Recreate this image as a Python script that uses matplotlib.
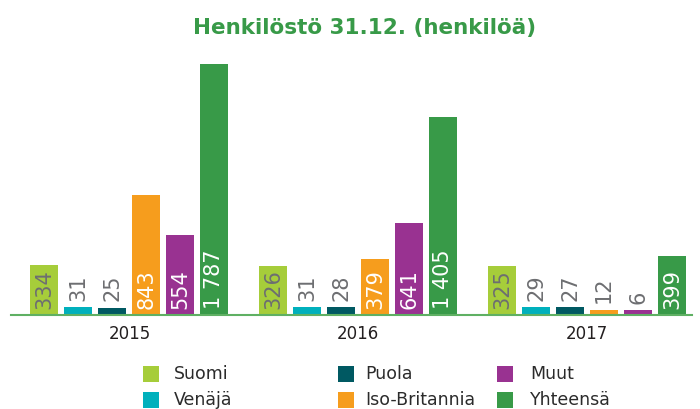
import numpy as np
import matplotlib.pyplot as plt
from matplotlib.patches import Rectangle

# Datos del gráfico
years = ['2015', '2016', '2017']
series = ['Suomi', 'Venäjä', 'Puola', 'Iso-Britannia', 'Muut', 'Yhteensä']
suomi = [334, 326, 325]
venaja = [31, 31, 29]
puola = [25, 28, 27]
iso_britannia = [843, 379, 12]
muut = [554, 641, 6]
yhteensa = [1787, 1405, 399]

colors = ['#a6cd3a', '#00b0bc', '#005962', '#f69d1d', '#993291', '#389a48']
inside_text = ['#6d6e71', 'white', 'white', 'white', 'white', 'white']
GRAY = '#6d6e71'
GREEN = '#389a48'

W, H = 700, 409


def fig_xy(xp, yp):
    """Pixel (desde arriba a la izquierda) -> coordenadas de figura."""
    return xp / W, 1 - yp / H


def draw_bars(ax, data):
    base = -27.5  # las barras arrancan un poco por debajo de cero
    step = 34 / 228.75
    width = 28 / 228.75
    x = np.arange(len(years))
    for j, vals in enumerate(data):
        vals = np.asarray(vals)
        pos = x + (j - 2.5) * step
        ax.bar(pos, vals - base, bottom=base, width=width, color=colors[j])
        for p, v in zip(pos, vals):
            txt = f'{v:,}'.replace(',', ' ')
            if v >= 300:
                ax.annotate(txt, (p, base), xytext=(0, 4.5), textcoords='offset points',
                            rotation=90, ha='center', va='bottom', fontsize=15,
                            color=inside_text[j])
            else:
                ax.annotate(txt, (p, v), xytext=(0, 4.5), textcoords='offset points',
                            rotation=90, ha='center', va='bottom', fontsize=15,
                            color=GRAY)
    ax.set_ylim(base, max(max(d) for d in data))
    ax.set_xlim(-0.518, 2.459)
    ax.set_xticks(x, years)
    ax.tick_params(axis='x', length=0, pad=7.5, labelsize=12, labelcolor='#231f20')
    ax.set_yticks([])
    for side in ['top', 'right', 'left']:
        ax.spines[side].set_visible(False)
    ax.spines['bottom'].set_color('#5fb063')
    ax.spines['bottom'].set_linewidth(1.5)
    return ax


def draw_legend(fig):
    sq_x = [143, 338, 497]
    txt_x = [174, 365, 530]
    row_y = [366, 392]
    for k, name in enumerate(series):
        col, row = k // 2, k % 2
        x0, y0 = fig_xy(sq_x[col], row_y[row] + 16)
        fig.add_artist(Rectangle((x0, y0), 16 / W, 16 / H, transform=fig.transFigure,
                                 color=colors[k], lw=0))
        tx, ty = fig_xy(txt_x[col], row_y[row] + 8)
        fig.text(tx, ty, name, va='center', ha='left', fontsize=12.5, color='#2b2b2b')


fig = plt.figure(figsize=(7, 4.09), dpi=100)
ax = fig.add_axes([11 / W, 94 / H, 681 / W, 251 / H])
draw_bars(ax, [suomi, venaja, puola, iso_britannia, muut, yhteensa])
draw_legend(fig)

tx, ty = fig_xy(365, 34)
fig.text(tx, ty, 'Henkilöstö 31.12. (henkilöä)', ha='center', va='baseline',
         fontsize=15.5, fontweight='bold', color=GREEN)

fig.savefig('out.png', dpi=100)
